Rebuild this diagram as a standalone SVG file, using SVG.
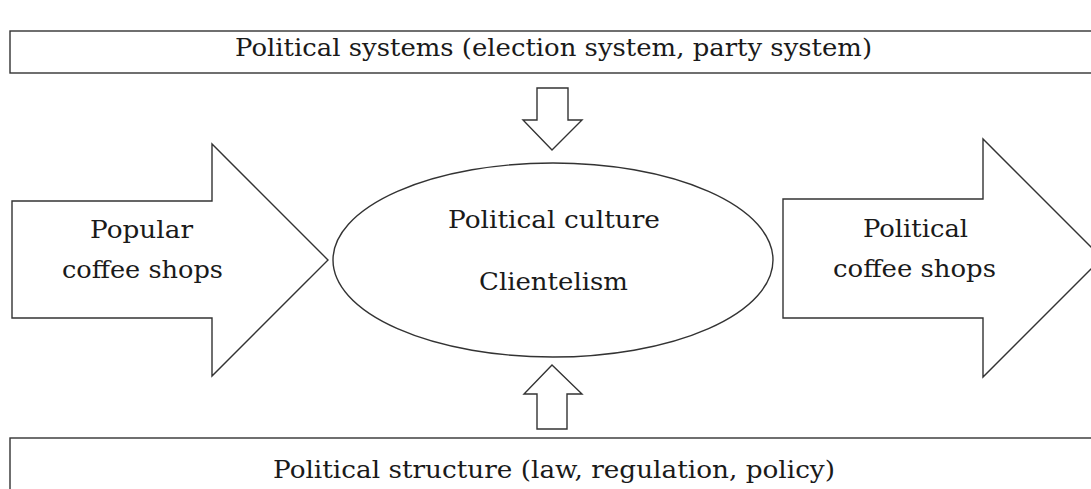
<svg xmlns="http://www.w3.org/2000/svg" width="1091" height="489" viewBox="0 0 1091 489">
<style>
.s{fill:#fff;stroke:#333;stroke-width:1.4;stroke-linejoin:miter}
.t{font-family:"DejaVu Serif","Liberation Serif",serif;font-size:25px;fill:#1a1a1a;text-anchor:start}
</style>
<rect width="1091" height="489" fill="#fff"/>
<g id="top-box">
<rect class="s" x="10" y="31" width="1100" height="42"/>
<text class="t" x="235" y="56" textLength="637" lengthAdjust="spacingAndGlyphs">Political systems (election system, party system)</text>
</g>
<g id="bottom-box">
<rect class="s" x="10" y="438" width="1100" height="70"/>
<text class="t" x="273" y="478" textLength="562" lengthAdjust="spacingAndGlyphs">Political structure (law, regulation, policy)</text>
</g>
<g id="popular-coffee-shops">
<polygon class="s" points="12,201 212,201 212,144 328,260 212,376 212,318 12,318"/>
<text class="t" x="90" y="238" textLength="103" lengthAdjust="spacingAndGlyphs">Popular</text>
<text class="t" x="62" y="278" textLength="161" lengthAdjust="spacingAndGlyphs">coffee shops</text>
</g>
<g id="political-culture">
<ellipse class="s" cx="553" cy="260" rx="220" ry="97"/>
<text class="t" x="448" y="228" textLength="212" lengthAdjust="spacingAndGlyphs">Political culture</text>
<text class="t" x="479" y="290" textLength="149" lengthAdjust="spacingAndGlyphs">Clientelism</text>
</g>
<g id="political-coffee-shops">
<polygon class="s" points="783,199 983,199 983,139 1102,258 983,377 983,318 783,318"/>
<text class="t" x="863" y="237" textLength="105" lengthAdjust="spacingAndGlyphs">Political</text>
<text class="t" x="833" y="277" textLength="163" lengthAdjust="spacingAndGlyphs">coffee shops</text>
</g>
<g id="connectors">
<polygon class="s" points="537,88 568,88 568,120 582,120 552,150 523,120 537,120"/>
<polygon class="s" points="552,365 582,394 567,394 567,429 537,429 537,394 524,394"/>
</g>
</svg>
